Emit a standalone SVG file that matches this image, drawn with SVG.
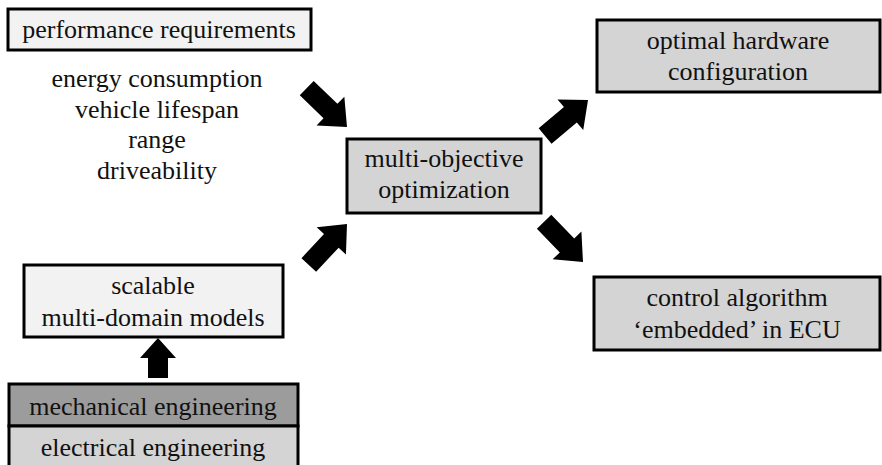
<svg xmlns="http://www.w3.org/2000/svg" width="882" height="465" viewBox="0 0 882 465">
  <style>
    .box { stroke: #000; stroke-width: 3; }
    .light { fill: #f2f2f2; }
    .mid { fill: #d4d4d4; }
    .dark { fill: #9c9c9c; }
    .lbl { font-family: 'Liberation Serif', 'Times New Roman', serif; font-size: 26px; fill: #111; text-anchor: middle; }
    .arrow { fill: #000; }
  </style>
  <defs>
    <!-- block arrow pointing along +x, tip at origin -->
    <polygon id="blockArrow" points="-56,-10 -23,-10 -23,-20 0,0 -23,20 -23,10 -56,10"/>
    <polygon id="shortArrow" points="-40,-10 -20,-10 -20,-18 0,0 -20,18 -20,10 -40,10"/>
  </defs>

  <rect width="882" height="465" fill="#fff"/>

  <g id="connectors" class="arrow">
    <use href="#blockArrow" transform="translate(347,127) rotate(44)"/>
    <use href="#blockArrow" transform="translate(347,224) rotate(-47)"/>
    <use href="#blockArrow" transform="translate(588,100) rotate(-40)"/>
    <use href="#blockArrow" transform="translate(583,262) rotate(46)"/>
    <use href="#shortArrow" transform="translate(158,338) rotate(-90)"/>
  </g>

  <g id="performance-requirements">
    <rect class="box light" x="8" y="9" width="303" height="41"/>
    <text class="lbl" x="159" y="38">performance requirements</text>
  </g>

  <g id="criteria">
    <text class="lbl" x="157" y="87">energy consumption</text>
    <text class="lbl" x="157" y="118">vehicle lifespan</text>
    <text class="lbl" x="157" y="148">range</text>
    <text class="lbl" x="157" y="179">driveability</text>
  </g>

  <g id="multi-objective-optimization">
    <rect class="box mid" x="347" y="139" width="194" height="74"/>
    <text class="lbl" x="444" y="167">multi-objective</text>
    <text class="lbl" x="444" y="198">optimization</text>
  </g>

  <g id="optimal-hardware">
    <rect class="box mid" x="597" y="20" width="283" height="72"/>
    <text class="lbl" x="738" y="49">optimal hardware</text>
    <text class="lbl" x="738" y="80">configuration</text>
  </g>

  <g id="control-algorithm">
    <rect class="box mid" x="594" y="277" width="286" height="73"/>
    <text class="lbl" x="737" y="306">control algorithm</text>
    <text class="lbl" x="737" y="338">‘embedded’ in ECU</text>
  </g>

  <g id="scalable-models">
    <rect class="box light" x="24" y="265" width="259" height="72"/>
    <text class="lbl" x="153" y="294">scalable</text>
    <text class="lbl" x="153" y="326">multi-domain models</text>
  </g>

  <g id="mechanical-engineering">
    <rect class="box dark" x="9" y="384" width="289" height="42"/>
    <text class="lbl" x="153" y="415">mechanical engineering</text>
  </g>

  <g id="electrical-engineering">
    <rect class="box mid" x="9" y="426" width="289" height="42"/>
    <text class="lbl" x="153" y="456">electrical engineering</text>
  </g>
</svg>
